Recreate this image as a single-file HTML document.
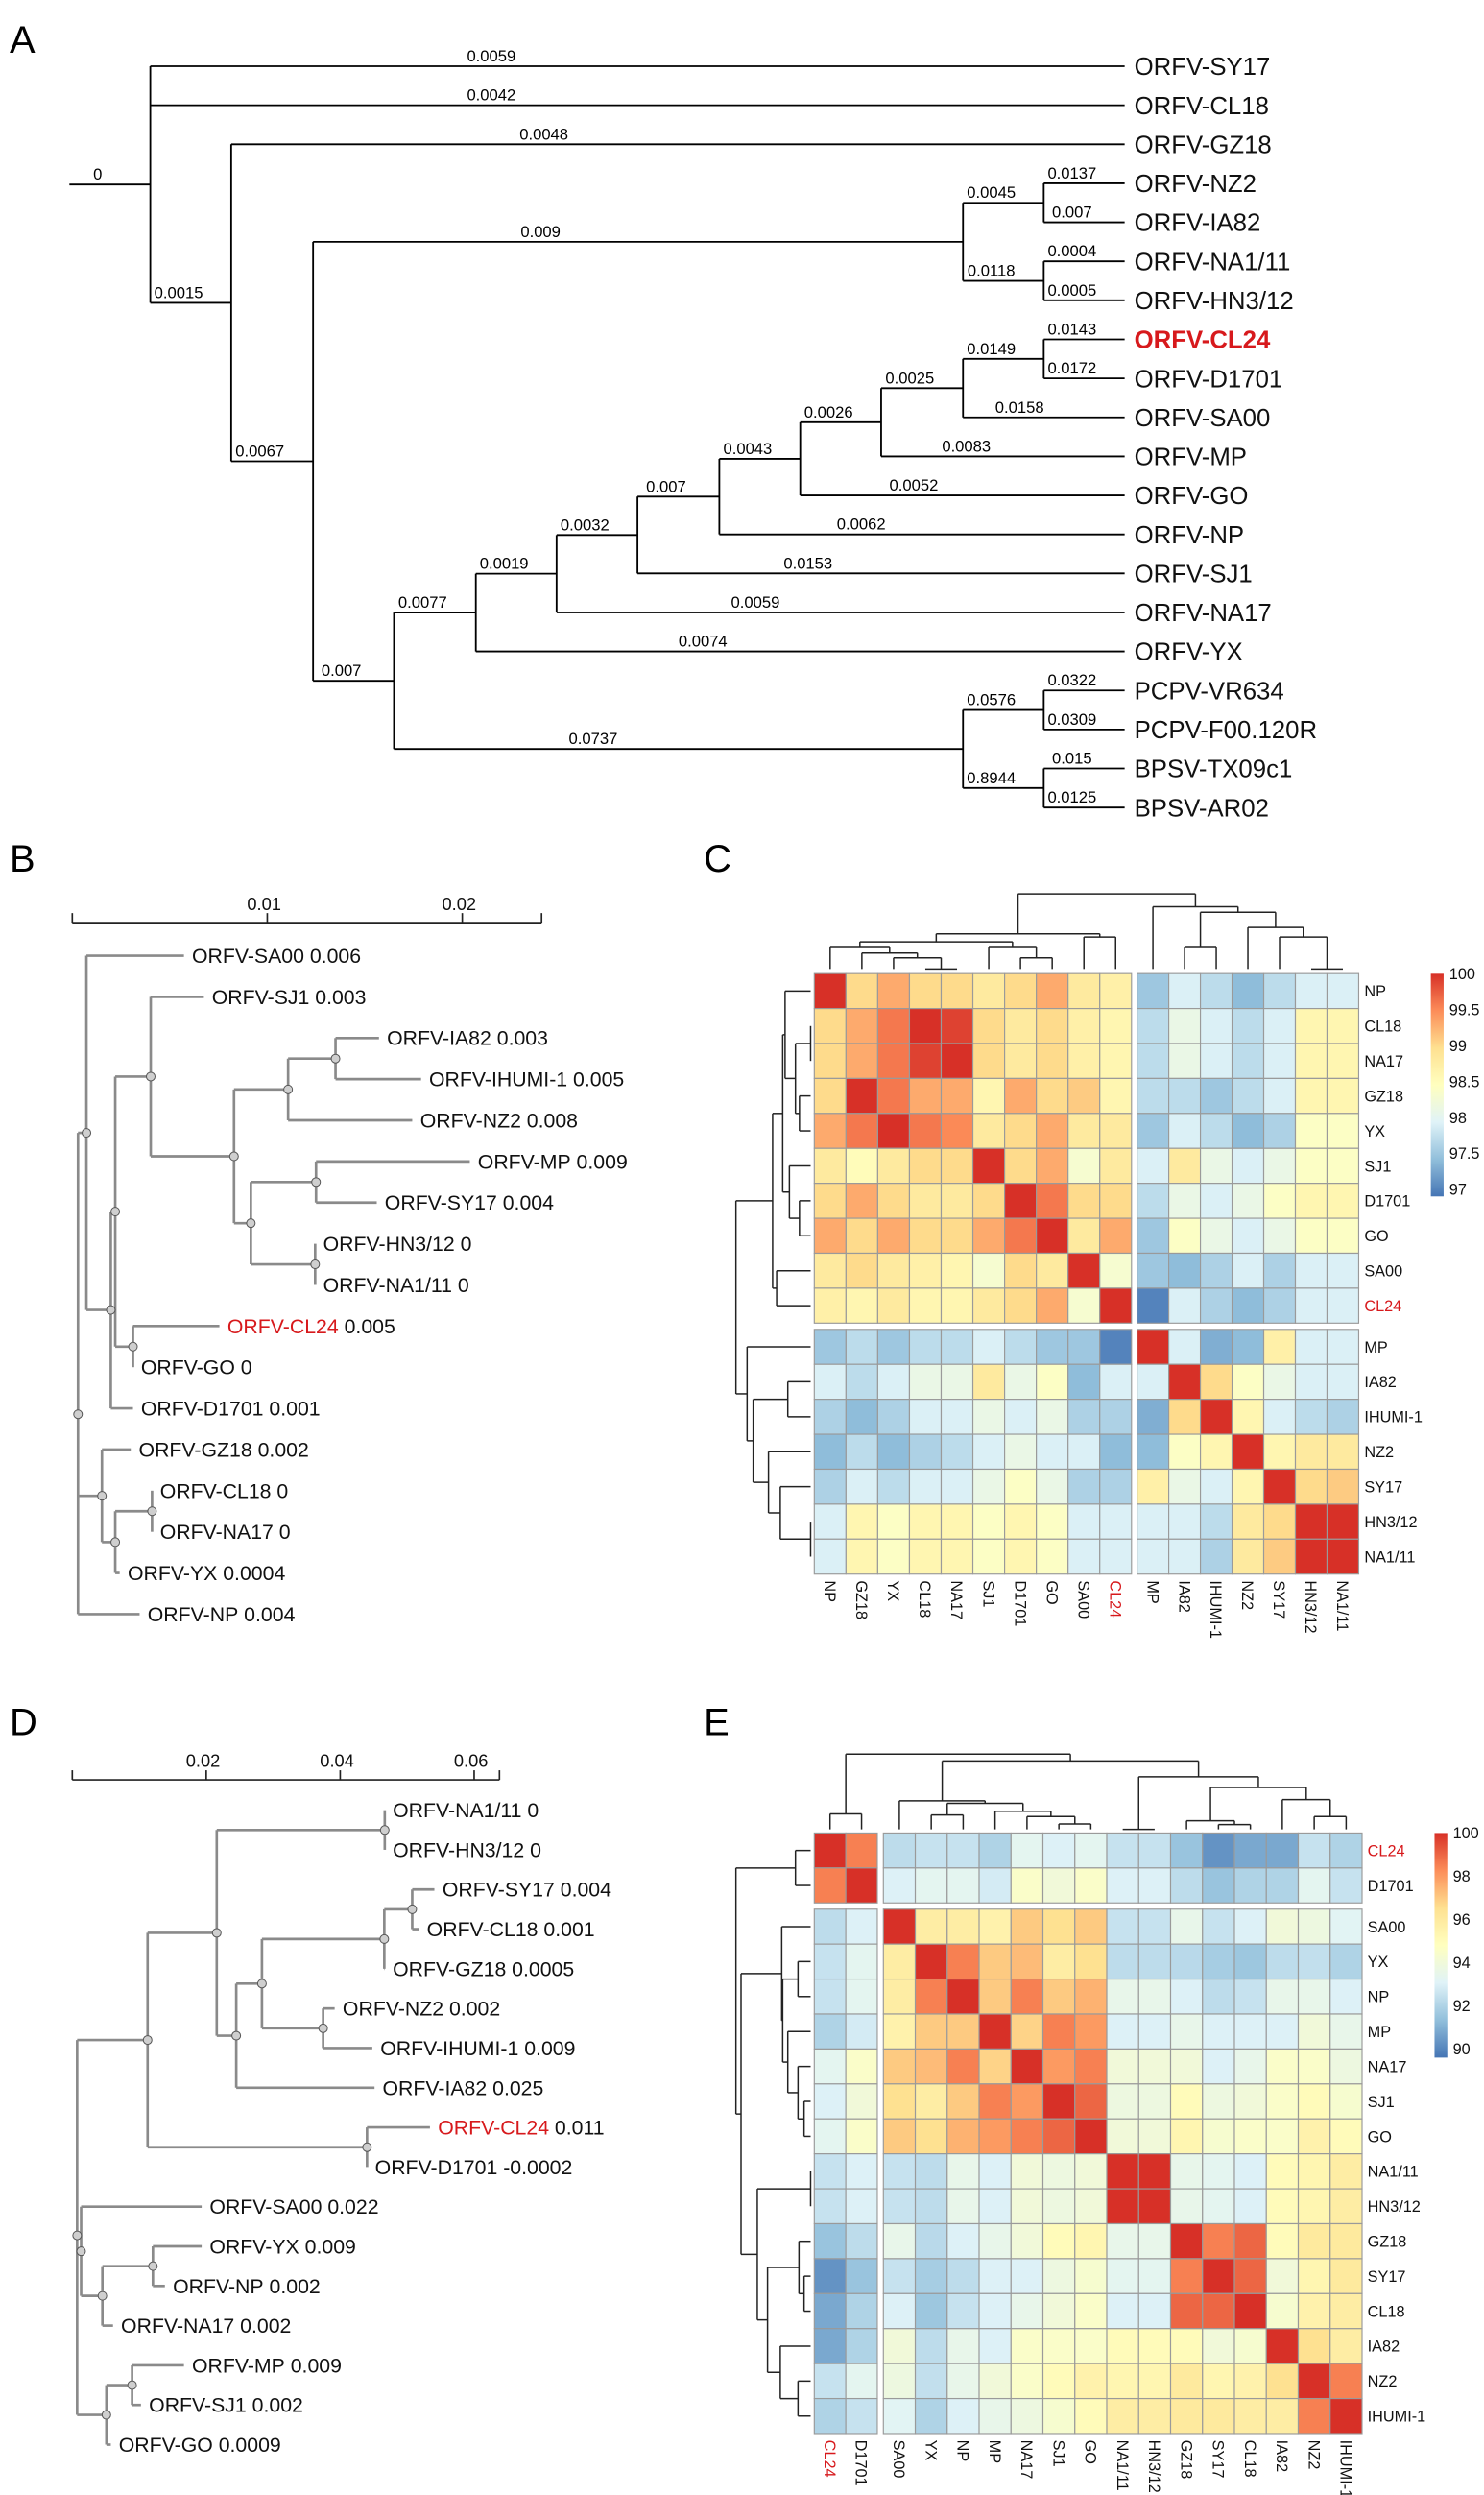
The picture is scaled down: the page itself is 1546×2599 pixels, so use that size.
<!DOCTYPE html>
<html>
<head>
<meta charset="utf-8">
<style>
html,body{margin:0;padding:0;background:#fff;}
svg{display:block;font-family:"Liberation Sans",Arial,sans-serif;}
</style>
</head>
<body>
<svg id="fig" xmlns="http://www.w3.org/2000/svg" width="1546" height="2599" viewBox="0 0 930 1563" preserveAspectRatio="none">
<rect x="0" y="0" width="930" height="1563" fill="#fff"/>
<text x="6" y="33" font-size="24">A</text>
<text x="6" y="546" font-size="24">B</text>
<text x="441" y="546" font-size="24">C</text>
<text x="6" y="1087" font-size="24">D</text>
<text x="441" y="1087" font-size="24">E</text>
</svg>
<script>
// ===== Panel A data =====
const treeA = {x:94.2, len:'0', c:[
  {n:'ORFV-SY17', len:'0.0059'},
  {n:'ORFV-CL18', len:'0.0042'},
  {x:144.9, len:'0.0015', c:[
    {n:'ORFV-GZ18', len:'0.0048'},
    {x:196.2, len:'0.0067', c:[
      {x:603.5, len:'0.009', c:[
        {x:654.1, len:'0.0045', c:[{n:'ORFV-NZ2',len:'0.0137'},{n:'ORFV-IA82',len:'0.007'}]},
        {x:654.1, len:'0.0118', c:[{n:'ORFV-NA1/11',len:'0.0004'},{n:'ORFV-HN3/12',len:'0.0005'}]}
      ]},
      {x:246.9, len:'0.007', c:[
        {x:298.2, len:'0.0077', c:[
          {x:348.8, len:'0.0019', c:[
            {x:399.5, len:'0.0032', c:[
              {x:450.8, len:'0.007', c:[
                {x:501.5, len:'0.0043', c:[
                  {x:552.2, len:'0.0026', c:[
                    {x:603.5, len:'0.0025', c:[
                      {x:654.1, len:'0.0149', c:[{n:'ORFV-CL24',len:'0.0143',red:1},{n:'ORFV-D1701',len:'0.0172'}]},
                      {n:'ORFV-SA00', len:'0.0158'}
                    ]},
                    {n:'ORFV-MP', len:'0.0083'}
                  ]},
                  {n:'ORFV-GO', len:'0.0052'}
                ]},
                {n:'ORFV-NP', len:'0.0062'}
              ]},
              {n:'ORFV-SJ1', len:'0.0153'}
            ]},
            {n:'ORFV-NA17', len:'0.0059'}
          ]},
          {n:'ORFV-YX', len:'0.0074'}
        ]},
        {x:603.5, len:'0.0737', c:[
          {x:654.1, len:'0.0576', c:[{n:'PCPV-VR634',len:'0.0322'},{n:'PCPV-F00.120R',len:'0.0309'}]},
          {x:654.1, len:'0.8944', c:[{n:'BPSV-TX09c1',len:'0.015'},{n:'BPSV-AR02',len:'0.0125'}]}
        ]}
      ]}
    ]}
  ]}
]};

// ===== Panel B data (x in source units) =====
const treeB = {x:176, c:[
  {x:195, c:[
    {n:'SA00', v:'0.006', x:415},
    {x:250, c:[
      {x:260, c:[
        {x:340, c:[
          {n:'SJ1', v:'0.003', x:460},
          {x:528, c:[
            {x:650, c:[
              {x:757, c:[{n:'IA82',v:'0.003',x:855},{n:'IHUMI-1',v:'0.005',x:950}]},
              {n:'NZ2', v:'0.008', x:930}
            ]},
            {x:566, c:[
              {x:713, c:[{n:'MP',v:'0.009',x:1060},{n:'SY17',v:'0.004',x:850}]},
              {x:711, c:[{n:'HN3/12',v:'0',x:711},{n:'NA1/11',v:'0',x:711}]}
            ]}
          ]}
        ]},
        {x:300, c:[{n:'CL24',v:'0.005',x:495,red:1},{n:'GO',v:'0',x:300}]}
      ]},
      {n:'D1701', v:'0.001', x:300}
    ]}
  ]},
  {x:230, c:[
    {n:'GZ18', v:'0.002', x:295},
    {x:260, c:[
      {x:343, c:[{n:'CL18',v:'0',x:343},{n:'NA17',v:'0',x:343}]},
      {n:'YX', v:'0.0004', x:270}
    ]}
  ]},
  {n:'NP', v:'0.004', x:315}
]};
const scaleBTicks = ['0.01','0.02'];

// ===== Panel D data =====
const treeD = {x:174, c:[
  {x:333, c:[
    {x:489, c:[
      {x:868, c:[{n:'NA1/11',v:'0',x:868},{n:'HN3/12',v:'0',x:868}]},
      {x:533, c:[
        {x:591, c:[
          {x:867, c:[
            {x:930, c:[{n:'SY17',v:'0.004',x:980},{n:'CL18',v:'0.001',x:945}]},
            {n:'GZ18', v:'0.0005', x:868}
          ]},
          {x:729, c:[{n:'NZ2',v:'0.002',x:755},{n:'IHUMI-1',v:'0.009',x:840}]}
        ]},
        {n:'IA82', v:'0.025', x:845}
      ]}
    ]},
    {x:828, c:[{n:'CL24',v:'0.011',x:970,red:1},{n:'D1701',v:'-0.0002',x:828}]}
  ]},
  {x:183, c:[
    {n:'SA00', v:'0.022', x:455},
    {x:231, c:[
      {x:345, c:[{n:'YX',v:'0.009',x:455},{n:'NP',v:'0.002',x:372}]},
      {n:'NA17', v:'0.002', x:255}
    ]}
  ]},
  {x:240, c:[
    {x:298, c:[{n:'MP',v:'0.009',x:415},{n:'SJ1',v:'0.002',x:318}]},
    {n:'GO', v:'0.0009', x:250}
  ]}
]};
const scaleDTicks = ['0.02','0.04','0.06'];

// ===== Panel C heatmap data =====
const cCols = ['NP','GZ18','YX','CL18','NA17','SJ1','D1701','GO','SA00','CL24','MP','IA82','IHUMI-1','NZ2','SY17','HN3/12','NA1/11'];
const cRows = ['NP','CL18','NA17','GZ18','YX','SJ1','D1701','GO','SA00','CL24','MP','IA82','IHUMI-1','NZ2','SY17','HN3/12','NA1/11'];
const cVals = [
 [100,99.0,99.3,99.0,99.0,98.8,99.0,99.3,98.8,98.7,97.5,97.9,97.7,97.4,97.7,97.9,97.9],
 [99.0,99.3,99.6,100,99.9,99.0,98.8,99.0,98.7,98.6,97.7,98.1,97.9,97.7,97.9,98.6,98.6],
 [99.0,99.3,99.6,99.9,100,99.0,98.8,99.0,98.7,98.6,97.7,98.1,97.9,97.7,97.9,98.6,98.6],
 [99.0,100,99.6,99.3,99.3,98.6,99.3,99.0,99.1,98.6,97.7,97.7,97.5,97.7,97.9,98.6,98.6],
 [99.3,99.6,100,99.6,99.5,98.8,99.0,99.3,98.8,98.8,97.5,97.9,97.7,97.4,97.6,98.4,98.4],
 [98.8,98.5,98.8,99.0,99.0,100,99.0,99.3,98.3,98.8,97.9,98.8,98.1,97.9,98.1,98.4,98.4],
 [99.0,99.3,99.0,98.8,98.8,99.0,100,99.6,99.0,99.0,97.7,98.1,97.9,98.1,98.4,98.6,98.6],
 [99.3,99.0,99.3,99.0,99.0,99.3,99.6,100,98.8,99.3,97.5,98.4,98.1,97.9,98.1,98.4,98.4],
 [98.8,99.0,98.8,98.7,98.6,98.3,99.0,98.8,100,98.3,97.5,97.4,97.6,97.9,97.6,97.9,97.9],
 [98.7,98.6,98.8,98.6,98.6,98.8,99.0,99.3,98.3,100,97.0,97.9,97.6,97.4,97.6,97.9,97.9],
 [97.5,97.7,97.5,97.7,97.7,97.9,97.7,97.5,97.5,97.0,100,97.9,97.3,97.4,98.7,97.9,97.9],
 [97.9,97.7,97.9,98.1,98.1,98.8,98.1,98.4,97.4,97.9,97.9,100,99.0,98.4,98.1,97.9,97.9],
 [97.6,97.4,97.6,97.9,97.9,98.1,97.9,98.1,97.6,97.6,97.3,99.0,100,98.6,97.9,97.7,97.6],
 [97.4,97.7,97.4,97.6,97.7,97.9,98.1,97.9,97.9,97.4,97.4,98.4,98.6,100,98.6,98.8,98.8],
 [97.6,97.9,97.7,97.9,97.9,98.1,98.4,98.1,97.6,97.6,98.7,98.1,97.9,98.6,100,99.0,99.1],
 [97.9,98.6,98.4,98.6,98.6,98.4,98.6,98.4,97.9,97.9,97.9,97.9,97.7,98.8,99.0,100,100],
 [97.9,98.6,98.4,98.6,98.6,98.4,98.6,98.4,97.9,97.9,97.9,97.9,97.6,98.8,99.1,100,100]
];
const cLegendTicks = [100,99.5,99,98.5,98,97.5,97];
const cTopTree = [[[['NP',['GZ18',['YX',['CL18','NA17',607],600],597],593],['SJ1',['D1701','GO',600],593],590],['SA00','CL24',587],585],
  ['MP',[['IA82','IHUMI-1',593],['NZ2',['SY17',['HN3/12','NA1/11',607],587],581],571.5],568],560];
const cRowTree = [[[['NP',[['CL18','NA17',508],['GZ18','YX',501],498.5],492],['SJ1',['D1701','GO',501],494.7],490.5],['SA00','CL24',486.7],484.2],
  ['MP',[['IA82','IHUMI-1',493.7],['NZ2',['SY17',['HN3/12','NA1/11',508],489],481.6],472],468.2],461.2];

// ===== Panel E heatmap data =====
const eCols = ['CL24','D1701','SA00','YX','NP','MP','NA17','SJ1','GO','NA1/11','HN3/12','GZ18','SY17','CL18','IA82','NZ2','IHUMI-1'];
const eRows = ['CL24','D1701','SA00','YX','NP','MP','NA17','SJ1','GO','NA1/11','HN3/12','GZ18','SY17','CL18','IA82','NZ2','IHUMI-1'];
const eVals = [
 [100,98.5,92.3,92.5,92.5,92.0,93.3,93.0,93.3,92.5,92.5,91.5,90.3,90.8,90.8,92.5,92.0],
 [98.5,100,93.0,93.3,93.3,92.8,94.5,94.0,94.5,93.0,93.0,92.3,91.5,92.0,92.0,93.3,92.5],
 [92.3,93.0,100,95.8,95.8,95.5,97.0,96.5,97.0,92.5,92.5,93.5,92.5,93.0,94.0,93.8,93.2],
 [92.5,93.3,95.8,100,98.5,97.0,97.3,95.8,96.5,92.3,92.3,92.2,91.8,91.6,92.3,92.4,92.0],
 [92.5,93.3,95.8,98.5,100,97.0,98.5,97.0,97.5,93.5,93.5,93.0,92.3,92.5,93.5,93.5,93.0],
 [92.0,92.8,95.5,97.0,97.0,100,96.8,98.5,98.0,93.0,93.0,93.5,93.0,93.0,93.0,94.0,93.5],
 [93.3,94.5,97.0,97.3,98.5,96.8,100,98.0,98.5,94.0,94.0,94.0,93.0,93.5,94.5,94.5,93.8],
 [93.0,94.0,96.5,95.8,97.0,98.5,98.0,100,99.0,93.8,93.8,95.0,93.8,94.0,94.5,95.0,94.3],
 [93.3,94.5,97.0,96.5,97.5,98.0,98.5,99.0,100,94.0,94.0,95.3,94.3,94.5,94.5,95.5,95.0],
 [92.5,93.0,92.5,92.3,93.5,93.0,94.0,93.8,94.0,100,100,93.5,93.3,93.0,95.0,95.3,95.8],
 [92.5,93.0,92.5,92.3,93.5,93.0,94.0,93.8,94.0,100,100,93.5,93.3,93.0,95.0,95.3,95.8],
 [91.5,92.3,93.5,92.2,93.0,93.5,94.0,95.0,95.3,93.5,93.5,100,98.5,99.0,95.0,96.0,96.0],
 [90.3,91.5,92.5,91.8,92.3,93.0,93.0,93.8,94.3,93.3,93.3,98.5,100,99.0,94.0,95.3,96.0],
 [90.8,92.0,93.0,91.6,92.5,93.0,93.5,94.0,94.5,93.0,93.0,99.0,99.0,100,94.3,95.5,95.8],
 [90.8,92.0,94.0,92.3,93.5,93.0,94.5,94.5,94.5,95.0,95.0,95.0,94.0,94.3,100,96.5,95.8],
 [92.5,93.3,93.8,92.4,93.5,94.0,94.5,95.0,95.5,95.3,95.3,96.0,95.3,95.5,96.5,100,98.5],
 [92.0,92.5,93.2,92.0,93.0,93.5,93.8,94.3,95.0,95.8,95.8,96.0,96.0,95.8,95.8,98.5,100]
];
const eLegendTicks = [100,98,96,94,92,90];
const eTopTree = [['CL24','D1701',1136.3],[['SA00',[['YX','NP',1137],['MP',['NA17',['SJ1','GO',1142.6],1138],1134.7],1129.7],1128.1],
  [['NA1/11','HN3/12',1146],[['GZ18',['SY17','CL18',1143],1140.6],['IA82',['NZ2','IHUMI-1',1138],1127.4],1119.8],1113.1],1103.2],1098.9];
const eRowTree = [['CL24','D1701',498.5],[['SA00',[['YX','NP',500.1],['MP',['NA17',['SJ1','GO',503.9],500.1],493.7],490.5],489.9],
  [['NA1/11','HN3/12',508],[['GZ18',['SY17','CL18',503.9],500.7],['IA82',['NZ2','IHUMI-1',500.1],489],481],474.6],464.4],461.2];

// ===== helpers =====
const NS = 'http://www.w3.org/2000/svg';
const svg = document.getElementById('fig');
function mk(tag, attrs, parent){
  const e = document.createElementNS(NS, tag);
  for (const k in attrs) e.setAttribute(k, attrs[k]);
  parent.appendChild(e);
  return e;
}
function group(name){
  const g = mk('g', {}, svg);
  
  
  return g;
}
const RED = '#d7191c';

// ===== Panel A =====
(function(){
  const g = group('tree-a');
  const TIP = 704.8, Y0 = 41.5, DY = 24.44;
  let k = 0;
  function lay(n){
    if (!n.c){ n.x = TIP; n.y = Y0 + DY*(k++); return; }
    n.c.forEach(lay);
    n.y = (n.c[0].y + n.c[n.c.length-1].y)/2;
  }
  lay(treeA);
  function blabel(px, n){
    const t = mk('text', {x: px + 0.35*(n.x-px), y: n.y-3, 'font-size':10, 'text-anchor':'middle'}, g);
    t.textContent = n.len;
    
    
  }
  function draw(n, px){
    const h = mk('line', {x1:px, x2:n.x, y1:n.y, y2:n.y, stroke:'#000', 'stroke-width':1.1}, g);
    
    
    blabel(px, n);
    if (n.c){
      const v = mk('line', {x1:n.x, x2:n.x, y1:n.c[0].y, y2:n.c[n.c.length-1].y, stroke:'#000', 'stroke-width':1.1}, g);
      
      
      n.c.forEach(ch => draw(ch, n.x));
    } else {
      const t = mk('text', {x: n.x+6, y: n.y+5.5, 'font-size':15.5, fill: n.red?RED:'#111', 'font-weight': n.red?'bold':'normal'}, g);
      t.textContent = n.n;
      
      
    }
  }
  draw(treeA, 43.5);
})();

// ===== B / D trees =====
function grayTree(tree, name, Y0, DY, xf){
  const g = group(name);
  let k = 0;
  function lay(n){
    if (!n.c){ n.y = Y0 + DY*(k++); return; }
    n.c.forEach(lay);
    n.y = n.c.reduce((s,c)=>s+c.y,0)/n.c.length;
  }
  lay(tree);
  const circles = [];
  function draw(n, px){
    if (px !== null){
      const h = mk('line', {x1:xf(px), x2:xf(n.x), y1:n.y, y2:n.y, stroke:'#8a8a8a', 'stroke-width':1.6}, g);
      
      
    }
    if (n.c){
      const v = mk('line', {x1:xf(n.x), x2:xf(n.x), y1:n.c[0].y, y2:n.c[n.c.length-1].y, stroke:'#8a8a8a', 'stroke-width':1.6}, g);
      
      
      n.c.forEach(ch => draw(ch, n.x));
      circles.push(n);
    } else {
      const t = mk('text', {x: xf(n.x)+5, y: n.y+4.5, 'font-size':12.8, fill:'#111'}, g);
      
      
      const s1 = mk('tspan', {fill: n.red?RED:'#111'}, t);
      s1.textContent = 'ORFV-' + n.n;
      const s2 = mk('tspan', {}, t);
      s2.textContent = ' ' + n.v;
    }
  }
  draw(tree, null);
  circles.forEach(n => {
    const c = mk('circle', {cx:xf(n.x), cy:n.y, r:2.7, fill:'#cfcfcf', stroke:'#555', 'stroke-width':0.6}, g);
    
    
  });
}
const xfB = x => x/3.6;
grayTree(treeB, 'tree-b', 598.7, 25.78, xfB);
grayTree(treeD, 'tree-d', 1134.0, 24.84, xfB);

function scaleBar(name, y, x0, x1, zero, per, step, ticks){
  const g = group(name);
  const l = mk('line', {x1:x0, x2:x1, y1:y, y2:y, stroke:'#222', 'stroke-width':1}, g);
  
  
  [x0, x1].forEach(x => {
    const t = mk('line', {x1:x, x2:x, y1:y, y2:y-6, stroke:'#222', 'stroke-width':1}, g);
    
    
  });
  ticks.forEach((lab, i) => {
    const x = zero + per*(i+1);
    const t = mk('line', {x1:x, x2:x, y1:y, y2:y-6, stroke:'#222', 'stroke-width':1}, g);
    
    
    const tx = mk('text', {x:x-2, y:y-8, 'font-size':11, 'text-anchor':'middle', fill:'#111'}, g);
    tx.textContent = lab;
    
    
  });
}
scaleBar('scale-bar-b', 578, 45.3, 339.4, 45.3, 122.2, 0.01, scaleBTicks);
scaleBar('scale-bar-d', 1115, 45.3, 313, 45.3, 83.95, 0.02, scaleDTicks);

// ===== heatmaps =====
const PAL = ['#4575B4','#91BFDB','#E0F3F8','#FFFFBF','#FEE090','#FC8D59','#D73027'];
function hex2rgb(h){ return [1,3,5].map(i=>parseInt(h.substr(i,2),16)); }
function colorFor(v, lo, hi){
  let t = (v-lo)/(hi-lo); t = Math.max(0, Math.min(1, t));
  const p = t*(PAL.length-1), i = Math.min(PAL.length-2, Math.floor(p)), f = p-i;
  const a = hex2rgb(PAL[i]), b = hex2rgb(PAL[i+1]);
  return 'rgb(' + a.map((x,j)=>Math.round(x+(b[j]-x)*f)).join(',') + ')';
}
function heatmap(o){
  const g = group(o.name);
  const colX = i => i < o.splitC ? o.x0 + i*o.w1 : o.x2 + (i-o.splitC)*o.w2;
  const colW = i => i < o.splitC ? o.w1 : o.w2;
  const rowY = j => j < o.splitR ? o.y0 + j*o.h : o.y2 + (j-o.splitR)*o.h;
  o.rows.forEach((r, j) => {
    o.cols.forEach((c, i) => {
      const rc = mk('rect', {x:colX(i), y:rowY(j), width:colW(i), height:o.h,
        fill: colorFor(o.vals[j][i], o.lo, o.hi), stroke:'#9a9a9a', 'stroke-width':0.7}, g);
      
      
    });
    const t = mk('text', {x: o.rowLabX, y: rowY(j)+o.h/2+3.5, 'font-size':9.8, fill: r==='CL24'?RED:'#111'}, g);
    t.textContent = r;
    
    
  });
  const yBottom = rowY(o.rows.length-1) + o.h;
  o.cols.forEach((c, i) => {
    const cx = colX(i) + colW(i)/2;
    const t = mk('text', {transform:'translate(' + (cx-3.5) + ',' + (yBottom+4) + ') rotate(90)', 'font-size':9.8, fill: c==='CL24'?RED:'#111'}, g);
    t.textContent = c;
    
    
  });
  const colPos = {}; o.cols.forEach((c,i)=>colPos[c]=colX(i)+colW(i)/2);
  const rowPos = {}; o.rows.forEach((r,j)=>rowPos[r]=rowY(j)+o.h/2);
  function line(x1,y1,x2,y2,nm){
    const l = mk('line', {x1:x1,y1:y1,x2:x2,y2:y2,stroke:'#222','stroke-width':0.9}, g);
    
    
  }
  function dTop(n){
    if (typeof n === 'string') return {p:colPos[n], h:o.topBase};
    const a = dTop(n[0]), b = dTop(n[1]); const hh = n[2];
    line(a.p, a.h, a.p, hh, 'column-dendrogram');
    line(b.p, b.h, b.p, hh, 'column-dendrogram');
    line(a.p, hh, b.p, hh, 'column-dendrogram');
    return {p:(a.p+b.p)/2, h:hh};
  }
  function dLeft(n){
    if (typeof n === 'string') return {p:rowPos[n], h:o.leftBase};
    const a = dLeft(n[0]), b = dLeft(n[1]); const hh = n[2];
    line(a.h, a.p, hh, a.p, 'row-dendrogram');
    line(b.h, b.p, hh, b.p, 'row-dendrogram');
    line(hh, a.p, hh, b.p, 'row-dendrogram');
    return {p:(a.p+b.p)/2, h:hh};
  }
  dTop(o.topTree); dLeft(o.rowTree);
  const gid = o.name + '-grad';
  const defs = mk('defs', {}, g);
  const lg = mk('linearGradient', {id:gid, x1:0, y1:1, x2:0, y2:0}, defs);
  PAL.forEach((c,i)=>mk('stop', {offset: (i/(PAL.length-1)), 'stop-color':c}, lg));
  const bar = mk('rect', {x:o.legX, y:o.legY0, width:8, height:o.legY1-o.legY0, fill:'url(#'+gid+')'}, g);
  
  
  o.legTicks.forEach(v => {
    const y = o.legY0 + (o.hi - v)/(o.hi - o.lo)*(o.legY1-o.legY0);
    const t = mk('text', {x:o.legX+11.5, y:y+3.5, 'font-size':9.8, fill:'#111'}, g);
    t.textContent = String(v);
    
    
  });
}
heatmap({name:'heatmap-c', cols:cCols, rows:cRows, vals:cVals, lo:96.9, hi:100,
  x0:510.3, w1:19.88, x2:712.6, w2:19.84, splitC:10,
  y0:609.9, y2:832.8, h:21.9, splitR:10, rowLabX:855,
  topTree:cTopTree, rowTree:cRowTree, topBase:607, leftBase:508,
  legX:896.7, legY0:610, legY1:749.5, legTicks:cLegendTicks});
heatmap({name:'heatmap-e', cols:eCols, rows:eRows, vals:eVals, lo:89.6, hi:100,
  x0:510.3, w1:19.75, x2:553.6, w2:20.0, splitC:2,
  y0:1148.3, y2:1196, h:21.9, splitR:2, rowLabX:857,
  topTree:eTopTree, rowTree:eRowTree, topBase:1146, leftBase:508,
  legX:899, legY0:1148.3, legY1:1289, legTicks:eLegendTicks});
</script>
</body>
</html>
